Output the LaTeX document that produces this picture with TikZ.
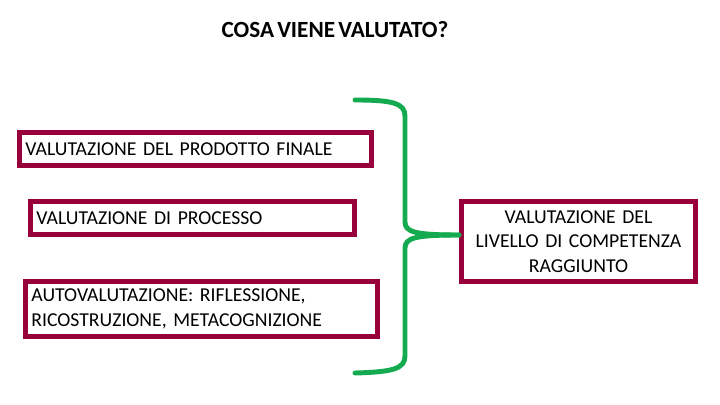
\documentclass[tikz,border=0pt]{standalone}
\usepackage{fontspec}
\setmainfont{Carlito}[WordSpace=0.6]
\definecolor{bordo}{RGB}{152,0,60}
\definecolor{verde}{RGB}{20,170,80}
\tikzset{
  voce/.style={draw=bordo, line width=3.5pt, inner xsep=4pt, inner ysep=2pt,
    font=\fontsize{14}{17.5}\selectfont, align=left},
  graffa/.style={draw=verde, line width=3.5pt, line cap=round, line join=round}
}
\begin{document}
\begin{tikzpicture}[x=0.025cm, y=-0.025cm]
    \useasboundingbox (0,0) rectangle (720,405);
    % Titolo
    \node[font=\fontsize{16.5}{20}\selectfont\bfseries] (titolo) at (335,30) {COSA VIENE VALUTATO?};

    % Voci di valutazione
    \node[voce, minimum width=8.8cm, minimum height=0.825cm, text width=8.5cm] (prodotto) at (195.5,149) {VALUTAZIONE DEL PRODOTTO FINALE};
    \node[voce, minimum width=8.1cm, minimum height=0.825cm, text width=7.8cm] (processo) at (192.5,218) {VALUTAZIONE DI PROCESSO};
    \node[voce, minimum width=8.8cm, minimum height=1.375cm, text width=8.5cm] (auto) at (201.5,309) {AUTOVALUTAZIONE: RIFLESSIONE,\\RICOSTRUZIONE, METACOGNIZIONE};

    % Risultato
    \node[voce, align=center, minimum width=5.85cm, minimum height=2cm, text width=5.55cm] (livello) at (578.5,241.5) {VALUTAZIONE DEL\\LIVELLO DI COMPETENZA\\RAGGIUNTO};

    % Graffa
    \coordinate (alto) at (355,100);
    \coordinate (basso) at (355,373);
    \draw[graffa] (alto) .. controls (392,100) and (405,103) .. (405,116) -- (405,222)
        .. controls (405,232) and (415,235) .. (livello.west |- 0,235);
    \draw[graffa] (livello.west |- 0,235) .. controls (415,235) and (405,238) .. (405,248)
        -- (405,356) .. controls (405,369) and (392,372) .. (basso);
\end{tikzpicture}
\end{document}
